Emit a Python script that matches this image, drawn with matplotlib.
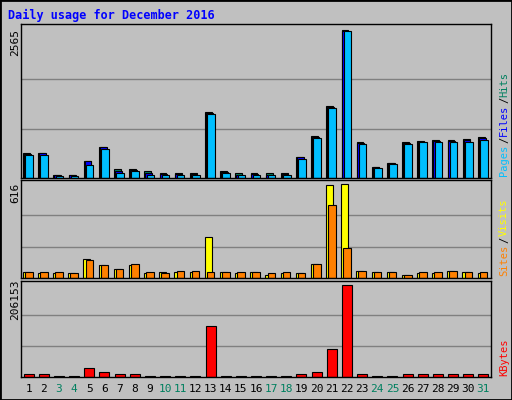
import numpy as np
import matplotlib.pyplot as plt
from matplotlib.patches import Rectangle

days = np.arange(1, 32)
hits = [430, 441, 58, 58, 302, 545, 151, 151, 116, 81, 81, 81, 1137, 128, 81, 81,
        81, 81, 371, 720, 1242, 2565, 615, 197, 267, 615, 638, 661, 661, 673, 708]
files = [420, 435, 50, 50, 290, 530, 120, 130, 90, 70, 70, 70, 1120, 110, 60, 70,
         60, 70, 360, 710, 1230, 2550, 605, 190, 255, 605, 625, 645, 640, 660, 695]
pages = [406, 406, 35, 35, 232, 510, 93, 116, 58, 58, 58, 58, 1103, 81, 46, 58,
         46, 58, 336, 685, 1207, 2542, 592, 174, 244, 592, 615, 627, 615, 627, 661]
visits = [36, 31, 31, 31, 124, 84, 58, 84, 31, 36, 40, 40, 271, 36, 31, 36,
          22, 31, 31, 89, 609, 616, 44, 36, 36, 22, 31, 31, 44, 36, 31]
sites = [36, 36, 36, 31, 116, 84, 62, 89, 36, 31, 44, 44, 36, 36, 36, 36,
         31, 36, 31, 89, 476, 198, 44, 36, 36, 22, 36, 36, 44, 36, 36]
kbytes = [6000, 6000, 3000, 3000, 21000, 10500, 6000, 7500, 3000, 3000, 3000, 3000,
          113500, 3000, 3000, 3000, 3000, 3000, 6000, 12000, 61700, 206153, 7500,
          3000, 3000, 6000, 6000, 6000, 6000, 6000, 6000]
weekend = {3, 4, 10, 11, 17, 18, 24, 25, 31}

BG = "#C0C0C0"
W, H = 512, 400
fig = plt.figure(figsize=(5.12, 4.0), dpi=100, facecolor=BG)
mono = "DejaVu Sans Mono"

# outer frame
fig.patches.append(Rectangle((0, 0), 1, 1, transform=fig.transFigure,
                             fill=False, ec="black", lw=2))
fig.text(8 / W, 1 - 15 / H, "Daily usage for December 2016", color="#0000FF",
         fontsize=8.5, fontweight="bold", family=mono, va="center")


def panel(y0, y1):
    ax = fig.add_axes([21 / W, 1 - y1 / H, 470 / W, (y1 - y0) / H])
    ax.set_facecolor(BG)
    ax.set_xlim(0.5, 31.5)
    ax.set_xticks([])
    ax.set_yticks([])
    for s in ax.spines.values():
        s.set_color("black")
        s.set_linewidth(1)
    return ax


def grid(ax, top):
    for f in (1 / 3, 2 / 3):
        ax.axhline(top * f, color="#808080", lw=1, zorder=0)
    ax.set_ylim(0, top * 1.04)


def bars(ax, vals, off, w, color):
    ax.bar(days + off, vals, width=w, align="edge", color=color,
           edgecolor="black", linewidth=0.8, zorder=2)


def side_label(y_bottom, parts):
    y = y_bottom
    for txt, col in parts:
        fig.text(504 / W, y / H, txt, color=col, rotation=90, fontsize=7.5,
                 family=mono, ha="center", va="bottom")
        y += len(txt) * 6.6


ax1 = panel(24, 178)
grid(ax1, 2565)
bars(ax1, hits, -0.36, 0.45, "#00805F")
bars(ax1, files, -0.31, 0.45, "#0000FF")
bars(ax1, pages, -0.22, 0.5, "#00BFFF")
fig.text(15 / W, 1 - 42 / H, "2565", rotation=90, fontsize=8, family=mono,
         ha="center", va="center")
side_label(400 - 176, [("Pages", "#00BFFF"), ("/", "#000000"),
                       ("Files", "#0000FF"), ("/", "#000000"), ("Hits", "#00805F")])

ax2 = panel(180, 278)
grid(ax2, 616)
bars(ax2, visits, -0.38, 0.45, "#FFFF00")
bars(ax2, sites, -0.24, 0.5, "#FF8000")
fig.text(15 / W, 1 - 193 / H, "616", rotation=90, fontsize=8, family=mono,
         ha="center", va="center")
side_label(400 - 276, [("Sites", "#FF8000"), ("/", "#000000"),
                       ("Visits", "#FFFF00")])

ax3 = panel(281, 377)
grid(ax3, 206153)
bars(ax3, kbytes, -0.33, 0.66, "#FF0000")
fig.text(15 / W, 1 - 300 / H, "206153", rotation=90, fontsize=8, family=mono,
         ha="center", va="center")
side_label(400 - 376, [("KBytes", "#FF0000")])

for d in days:
    x = 21 + (d - 0.5) / 31 * 470
    fig.text(x / W, 1 - 389 / H, str(d), fontsize=8, family=mono, ha="center",
             va="center", color="#00805F" if d in weekend else "black")

fig.savefig("out.png", dpi=100, facecolor=BG)
